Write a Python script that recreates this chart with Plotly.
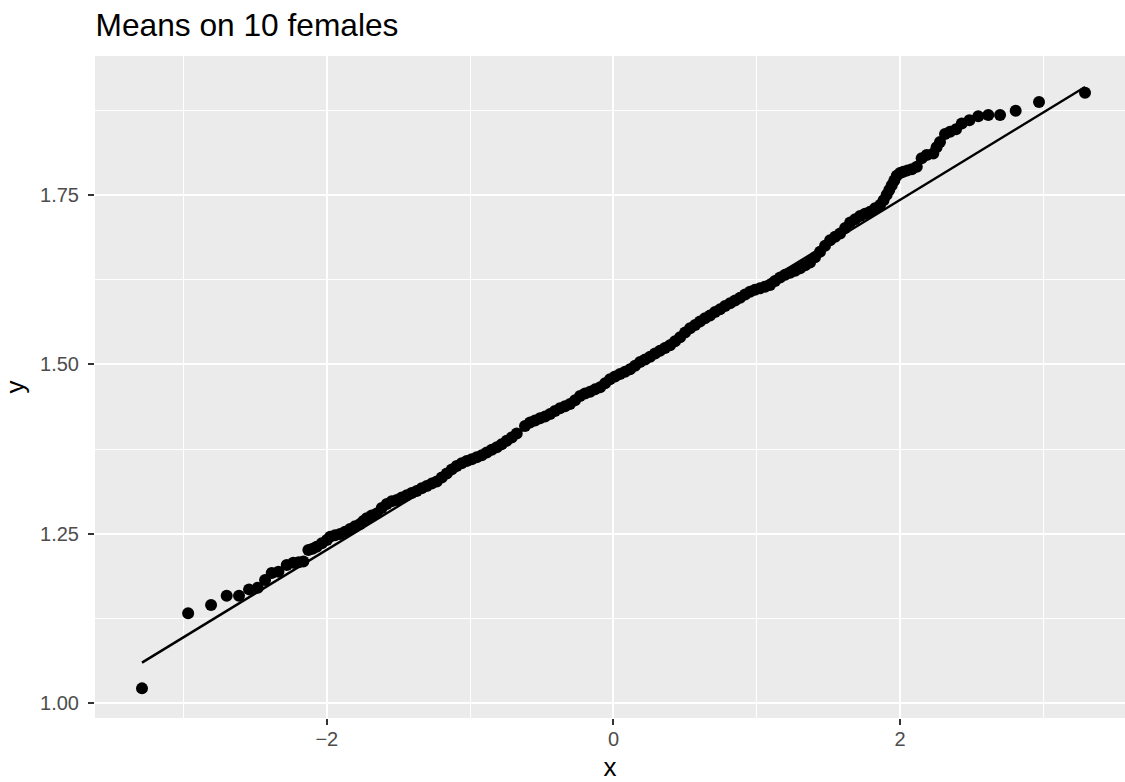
import plotly.graph_objects as go

# Sample quantiles (theoretical x, sample y)
qq_x = [
    -3.290, -2.968, -2.808, -2.699, -2.613, -2.543, -2.482, -2.431, -2.385, -2.338,
    -2.280, -2.234, -2.196, -2.164, -2.129, -2.100, -2.071, -2.035, -2.000,
    -1.977, -1.943, -1.908, -1.873, -1.838, -1.803, -1.768, -1.745, -1.722, -1.687,
    -1.652, -1.617, -1.582, -1.547, -1.512, -1.477, -1.442, -1.408, -1.373, -1.338,
    -1.303, -1.268, -1.233, -1.198, -1.163, -1.128, -1.094, -1.059, -1.024, -0.989,
    -0.954, -0.919, -0.884, -0.849, -0.814, -0.780, -0.745, -0.710, -0.675, -0.617,
    -0.582, -0.547, -0.512, -0.477, -0.442, -0.408, -0.373, -0.338, -0.303, -0.268,
    -0.233, -0.198, -0.163, -0.128, -0.093, -0.058, -0.024, 0.011, 0.046, 0.081,
    0.116, 0.151, 0.186, 0.221, 0.256, 0.291, 0.325, 0.360, 0.395, 0.430,
    0.465, 0.500, 0.535, 0.570, 0.604, 0.639, 0.674, 0.709, 0.744, 0.779,
    0.814, 0.849, 0.884, 0.919, 0.953, 0.988, 1.023, 1.058, 1.093, 1.128,
    1.163, 1.198, 1.233, 1.268, 1.303, 1.338, 1.372, 1.407, 1.442, 1.477,
    1.512, 1.547, 1.582, 1.617, 1.652, 1.687, 1.721, 1.756, 1.791, 1.826,
    1.861, 1.885, 1.907, 1.925, 1.942, 1.960, 1.977, 2.000, 2.023, 2.052,
    2.082, 2.117, 2.151, 2.186, 2.232, 2.255, 2.279, 2.314, 2.349, 2.391,
    2.431, 2.484, 2.546, 2.616, 2.698, 2.807, 2.970, 3.291,
]
qq_y = [
    1.022, 1.1327, 1.145, 1.1587, 1.1587, 1.168, 1.1705, 1.182, 1.192, 1.194,
    1.204, 1.2074, 1.208, 1.209, 1.226, 1.228, 1.231, 1.236, 1.241,
    1.2457, 1.248, 1.2497, 1.253, 1.257, 1.261, 1.2645, 1.269, 1.273, 1.277,
    1.280, 1.288, 1.294, 1.298, 1.300, 1.3035, 1.307, 1.310, 1.313, 1.317,
    1.3205, 1.324, 1.327, 1.333, 1.339, 1.345, 1.350, 1.354, 1.3574, 1.360,
    1.3628, 1.366, 1.370, 1.374, 1.3776, 1.382, 1.3873, 1.392, 1.398, 1.409,
    1.414, 1.417, 1.4204, 1.423, 1.4267, 1.431, 1.435, 1.438, 1.4414, 1.447,
    1.4533, 1.457, 1.4596, 1.463, 1.466, 1.472, 1.478, 1.482, 1.4857, 1.489,
    1.4926, 1.498, 1.5034, 1.507, 1.5112, 1.516, 1.520, 1.524, 1.528, 1.534,
    1.540, 1.547, 1.553, 1.558, 1.563, 1.568, 1.572, 1.577, 1.581, 1.586,
    1.590, 1.594, 1.598, 1.603, 1.607, 1.610, 1.612, 1.6145, 1.617, 1.623,
    1.628, 1.632, 1.635, 1.638, 1.6416, 1.646, 1.650, 1.658, 1.666, 1.675,
    1.683, 1.688, 1.693, 1.701, 1.709, 1.714, 1.7187, 1.722, 1.725, 1.730,
    1.735, 1.742, 1.750, 1.757, 1.764, 1.771, 1.778, 1.782, 1.784, 1.786,
    1.7876, 1.7914, 1.804, 1.8087, 1.811, 1.820, 1.828, 1.8397, 1.843, 1.8466,
    1.855, 1.860, 1.866, 1.8677, 1.8677, 1.874, 1.887, 1.9006,
]

# Reference line endpoints
line_x = [-3.290, 3.291]
line_y = [1.060, 1.909]

x_ticks = [-2, 0, 2]
x_tick_labels = ["\u22122", "0", "2"]
y_ticks = [1.00, 1.25, 1.50, 1.75]
y_tick_labels = ["1.00", "1.25", "1.50", "1.75"]

FONT = "Liberation Sans, Arial, Helvetica, sans-serif"

W, H = 1125, 782

fig = go.Figure()
fig.add_trace(go.Scatter(
    x=qq_x, y=qq_y, mode="markers",
    marker=dict(color="black", size=12, line=dict(width=0)),
    showlegend=False, hoverinfo="x+y",
))
fig.add_trace(go.Scatter(
    x=line_x, y=line_y, mode="lines",
    line=dict(color="black", width=2.4),
    showlegend=False, hoverinfo="skip",
))

axis_common = dict(
    showgrid=True, gridcolor="white", gridwidth=2.2,
    zeroline=False, showline=False, automargin=False,
    ticks="outside", ticklen=6, tickwidth=2, tickcolor="#333333",
    tickfont=dict(family=FONT, size=20, color="#4D4D4D"),
    minor=dict(showgrid=True, gridcolor="white", gridwidth=1.1, ticks=""),
)

fig.update_layout(
    width=W, height=H,
    margin=dict(l=95, r=0, t=56, b=64, autoexpand=False),
    paper_bgcolor="white", plot_bgcolor="#EBEBEB",
    font=dict(family=FONT, color="black"),
    title=dict(text="Means on 10 females", x=95.5 / W, xref="container", xanchor="left",
               y=1 - 25 / H, yref="container", yanchor="middle",
               font=dict(family=FONT, size=31.7, color="black")),
    xaxis=dict(range=[-3.618, 3.570], tickvals=x_ticks, ticktext=x_tick_labels,
               ticklabelstandoff=-3,
               title=dict(text="x", font=dict(family=FONT, size=26, color="black"), standoff=12),
               **axis_common),
    yaxis=dict(range=[0.9783, 1.9547], tickvals=y_ticks, ticktext=y_tick_labels,
               ticklabelstandoff=5,
               title=dict(text="y", font=dict(family=FONT, size=26, color="black"), standoff=8),
               **axis_common),
)
fig.update_xaxes(minor=dict(tickvals=[-3, -1, 1, 3]))
fig.update_yaxes(minor=dict(tickvals=[1.125, 1.375, 1.625, 1.875]))

fig.write_html(
    "out.html",
    config={"displayModeBar": False},
    post_script="document.body.style.margin='0px';document.body.style.overflow='hidden';",
)
